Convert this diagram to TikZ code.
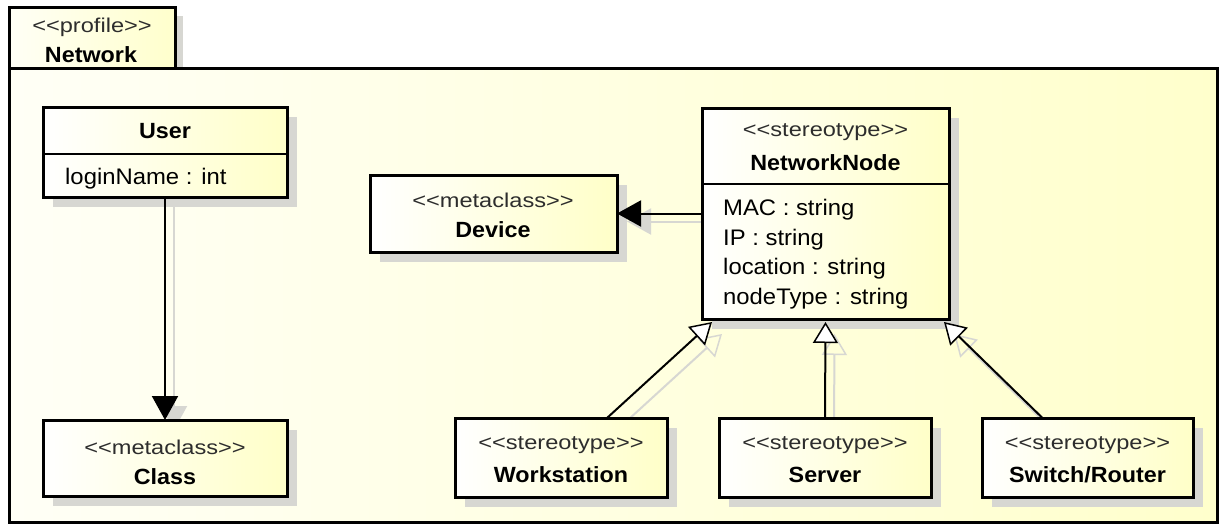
\documentclass[tikz,border=0pt]{standalone}
\usepackage{fontspec}
\setmainfont{Liberation Sans}
\newfontfamily\stfont[FakeStretch=1.18]{Liberation Sans}
\newfontfamily\nmfont[FakeStretch=1.06]{Liberation Sans}
\usetikzlibrary{arrows.meta,shadows,calc}
\pgfdeclarelayer{back}
\pgfdeclarelayer{mid}
\pgfsetlayers{back,mid,main}
\definecolor{boxy}{RGB}{255,255,200}
\definecolor{pkgl}{RGB}{255,255,246}
\definecolor{pkgr}{RGB}{255,255,204}
\definecolor{shadowgray}{RGB}{215,215,210}
\definecolor{sttext}{RGB}{45,45,45}
\tikzset{
  box/.style={draw=black, line width=3pt, left color=white, right color=boxy,
    general shadow={fill=shadowgray, shadow xshift=10pt, shadow yshift=-10pt},
    inner sep=0pt, outer sep=0pt, anchor=north west},
  pkg/.style={draw=black, line width=3pt, left color=pkgl, right color=pkgr,
    inner sep=0pt, outer sep=0pt, anchor=north west},
  stereo/.style={font=\stfont\fontsize{20}{24}\selectfont, text=sttext, inner sep=0pt},
  cname/.style={font=\nmfont\bfseries\fontsize{22}{26}\selectfont, inner sep=0pt},
  attr/.style={font=\nmfont\fontsize{22.5}{27}\selectfont, inner sep=0pt, anchor=west},
  assoc/.style={line width=2pt, -{Triangle[width=26pt,length=24pt]}},
  gen/.style={line width=2pt, -{Triangle[open, width=25pt, length=21pt, fill=white, line width=1.5pt]}},
  cshadow/.style={draw=shadowgray, line width=2pt},
  cshadowassoc/.style={cshadow, -{Triangle[width=26pt,length=24pt]}},
  cshadowgen/.style={cshadow, -{Triangle[open, width=25pt, length=21pt, line width=1.5pt]}},
}
\begin{document}
\begin{tikzpicture}[x=1pt,y=-1pt]
\useasboundingbox (0,0) rectangle (1225,527);
% package
\begin{pgfonlayer}{back}
\node[pkg, general shadow={fill=shadowgray, shadow xshift=8pt, shadow yshift=-8pt}, minimum width=166, minimum height=60] (tab) at (9,8) {};
\node[pkg, minimum width=1208, minimum height=454] (pkgbody) at (9,68) {};
\end{pgfonlayer}
\node[stereo] (tabst) at (92,27) {{<}{<}profile{>}{>}};
\node[cname] (tabname) at (91,55) {Network};

% User
\node[box, minimum width=244, minimum height=90] (user) at (43,107) {};
\draw[line width=1.5pt] (43,154) -- (287,154);
\node[cname] (username) at (165,131) {User};
\node[attr] (userattr) at (65,179) {loginName : int};

% Class
\node[box, minimum width=244, minimum height=76] (class) at (43,420) {};
\node[stereo] (classst) at (165,447) {{<}{<}metaclass{>}{>}};
\node[cname] (classname) at (165,477) {Class};

% Device
\node[box, minimum width=247, minimum height=77] (device) at (370,175) {};
\node[stereo] (devst) at (493,200) {{<}{<}metaclass{>}{>}};
\node[cname] (devname) at (493,230) {Device};

% NetworkNode
\node[box, minimum width=247, minimum height=211] (nn) at (702,108) {};
\draw[line width=1.5pt] (702,184) -- (949,184);
\node[stereo] (nnst) at (825.5,132) {{<}{<}stereotype{>}{>}};
\node[cname] (nnname) at (825.5,163) {NetworkNode};
\node[attr] (a1) at (723,210) {MAC : string};
\node[attr] (a2) at (723,240) {IP : string};
\node[attr] (a3) at (723,269) {location : string};
\node[attr] (a4) at (723,299) {nodeType : string};

% Workstation, Server, Switch/Router
\node[box, minimum width=212, minimum height=79] (ws) at (455,418) {};
\node[stereo] (wsst) at (561,445) {{<}{<}stereotype{>}{>}};
\node[cname] (wsname) at (561,475) {Workstation};

\node[box, minimum width=212, minimum height=79] (srv) at (719,418) {};
\node[stereo] (srvst) at (825,445) {{<}{<}stereotype{>}{>}};
\node[cname] (srvname) at (825,475) {Server};

\node[box, minimum width=211, minimum height=79] (sw) at (982,418) {};
\node[stereo] (swst) at (1087.5,445) {{<}{<}stereotype{>}{>}};
\node[cname] (swname) at (1087.5,475) {Switch/Router};

% connector anchor points
\coordinate (wsTop) at ($(ws.north)+(46,0)$);
\coordinate (swTop) at ($(sw.north)+(-45,0)$);
\coordinate (nnWs) at ($(nn.south west)+(10,3)$);
\coordinate (nnSrv) at ($(nn.south)+(0,3)$);
\coordinate (nnSw) at ($(nn.south east)+(-5,3)$);
\coordinate (nnDev) at (nn.west |- device.east);

% connector shadows
\begin{pgfonlayer}{mid}
\draw[cshadowassoc] ($(user.south)+(9,0)$) -- ($(class.north)+(9,10)$);
\draw[cshadowassoc] ($(nnDev)+(14,8)$) -- ($(device.east)+(10,8)$);
\draw[cshadowgen] ($(wsTop)+(10,12)$) -- ($(nnWs)+(10,12)$);
\draw[cshadowgen] ($(srv.north)+(9,12)$) -- ($(nnSrv)+(9,12)$);
\draw[cshadowgen] ($(swTop)+(10,12)$) -- ($(nnSw)+(10,12)$);
\end{pgfonlayer}

% connectors
\draw[assoc] (user.south) -- (class.north);
\draw[assoc] (nnDev) -- (device.east);
\draw[gen] (wsTop) -- (nnWs);
\draw[gen] (srv.north) -- (nnSrv);
\draw[gen] (swTop) -- (nnSw);
\end{tikzpicture}
\end{document}
